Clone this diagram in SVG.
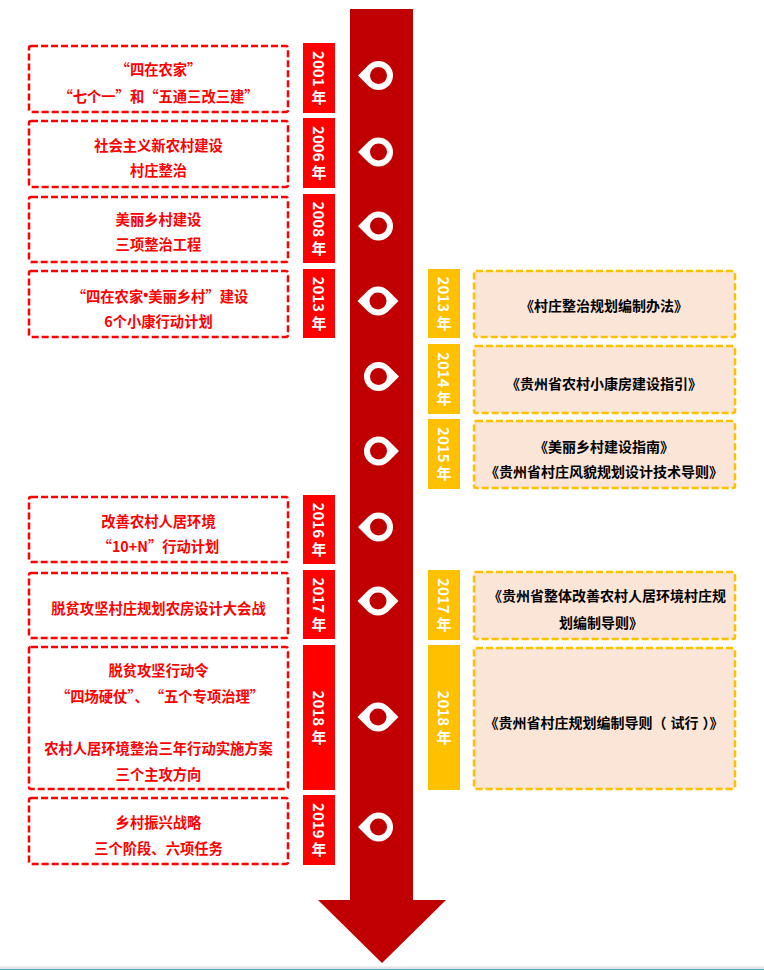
<svg xmlns="http://www.w3.org/2000/svg" xmlns:xlink="http://www.w3.org/1999/xlink" width="764" height="970" viewBox="0 0 764 970">
<style>
.lbox{fill:#ffffff;stroke:#ff0000;stroke-width:2.5;stroke-dasharray:7 3}
.rbox{fill:#fbe5d6;stroke:#ffc000;stroke-width:2.5;stroke-dasharray:7 3}
.ly{fill:#ff0000}
.ry{fill:#ffc000}
.yt{fill:#ffffff;font-family:"Noto Sans CJK SC","Noto Sans",sans-serif;font-weight:bold;font-size:15px;writing-mode:vertical-rl;text-orientation:mixed;text-anchor:middle}
.lt{fill:#ff0000;font-family:"Noto Sans CJK SC",sans-serif;font-weight:bold;font-size:14.3px;text-anchor:middle;dominant-baseline:central}
.rt{fill:#000000;font-family:"Noto Sans CJK SC",sans-serif;font-weight:bold;font-size:14px;text-anchor:middle;dominant-baseline:central}
.bul{font-family:"Liberation Sans",sans-serif}
.pin{fill:#ffffff}
.dot{fill:#c00000}
</style>
<defs>
<g id="pinL"><path class="pin" d="M-20.5,0 L-10.25,-10.25 A14.5,14.5 0 1 1 -10.25,10.25 Z"/><circle class="dot" r="8.5"/></g>
<g id="pinR"><path class="pin" d="M20.5,0 L10.25,-10.25 A14.5,14.5 0 1 0 10.25,10.25 Z"/><circle class="dot" r="8.5"/></g>
<g id="pinE"><path class="pin" d="M-20.5,0 L-10.25,-10.25 A14.5,14.5 0 0 1 10.25,-10.25 L20.5,0 L10.25,10.25 A14.5,14.5 0 0 1 -10.25,10.25 Z"/><circle class="dot" r="8.5"/></g>
</defs>

<g id="connectors">
<path id="timeline-arrow" d="M350,9 H413 V900 H446 L382,963 L318,900 H350 Z" fill="#c00000"/>
</g>

<g id="markers">
<use xlink:href="#pinL" href="#pinL" x="378.5" y="75.5"/>
<use xlink:href="#pinL" href="#pinL" x="378.5" y="152"/>
<use xlink:href="#pinL" href="#pinL" x="378.5" y="226"/>
<use xlink:href="#pinE" href="#pinE" x="378" y="301"/>
<use xlink:href="#pinR" href="#pinR" x="378.5" y="376.5"/>
<use xlink:href="#pinR" href="#pinR" x="378.5" y="451"/>
<use xlink:href="#pinL" href="#pinL" x="378.5" y="527"/>
<use xlink:href="#pinE" href="#pinE" x="378" y="601"/>
<use xlink:href="#pinE" href="#pinE" x="378" y="717"/>
<use xlink:href="#pinL" href="#pinL" x="378.5" y="827"/>
</g>

<g id="n2001">
<rect class="lbox" x="29" y="46" width="259" height="66" rx="2"/>
<rect class="ly" x="303" y="43" width="32" height="70"/>
<text class="yt" x="319" y="78">2001 年</text>
<text class="lt" x="158.5" y="68">“四在农家”</text>
<text class="lt" x="158.5" y="95">“七个一”和“五通三改三建”</text>
</g>

<g id="n2006">
<rect class="lbox" x="29" y="121" width="259" height="66" rx="2"/>
<rect class="ly" x="303" y="118" width="32" height="70"/>
<text class="yt" x="319" y="153">2006 年</text>
<text class="lt" x="158.5" y="144">社会主义新农村建设</text>
<text class="lt" x="158.5" y="169">村庄整治</text>
</g>

<g id="n2008">
<rect class="lbox" x="29" y="197" width="259" height="65" rx="2"/>
<rect class="ly" x="303" y="194" width="32" height="69"/>
<text class="yt" x="319" y="228.5">2008 年</text>
<text class="lt" x="158.5" y="218">美丽乡村建设</text>
<text class="lt" x="158.5" y="243">三项整治工程</text>
</g>

<g id="n2013">
<rect class="lbox" x="29" y="271" width="259" height="66" rx="2"/>
<rect class="ly" x="303" y="269" width="32" height="69"/>
<text class="yt" x="319" y="303.5">2013 年</text>
<text class="lt" x="160" y="295">“四在农家<tspan class="bul">•</tspan>美丽乡村”建设</text>
<text class="lt" x="158.5" y="320">6个小康行动计划</text>
</g>

<g id="n2016">
<rect class="lbox" x="29" y="497" width="259" height="65" rx="2"/>
<rect class="ly" x="303" y="495" width="32" height="69"/>
<text class="yt" x="319" y="529.5">2016 年</text>
<text class="lt" x="158.5" y="520">改善农村人居环境</text>
<text class="lt" x="158.5" y="545">“10+N”行动计划</text>
</g>

<g id="n2017">
<rect class="lbox" x="29" y="573" width="259" height="65" rx="2"/>
<rect class="ly" x="303" y="570" width="32" height="69"/>
<text class="yt" x="319" y="604.5">2017 年</text>
<text class="lt" x="158.5" y="607">脱贫攻坚村庄规划农房设计大会战</text>
</g>

<g id="n2018">
<rect class="lbox" x="29" y="647" width="259" height="142" rx="2"/>
<rect class="ly" x="303" y="645" width="32" height="145"/>
<text class="yt" x="319" y="717.5">2018 年</text>
<text class="lt" x="158.5" y="669">脱贫攻坚行动令</text>
<text class="lt" x="160" y="695">“四场硬仗”、<tspan dx="8">“五个专项治理”</tspan></text>
<text class="lt" x="158.5" y="747">农村人居环境整治三年行动实施方案</text>
<text class="lt" x="158.5" y="773">三个主攻方向</text>
</g>

<g id="n2019">
<rect class="lbox" x="29" y="798" width="259" height="66" rx="2"/>
<rect class="ly" x="303" y="795" width="32" height="70"/>
<text class="yt" x="319" y="830">2019 年</text>
<text class="lt" x="158.5" y="821">乡村振兴战略</text>
<text class="lt" x="158.5" y="847">三个阶段、六项任务</text>
</g>

<g id="r2013">
<rect class="ry" x="428" y="269" width="32" height="69"/>
<text class="yt" x="444" y="303.5">2013 年</text>
<rect class="rbox" x="474" y="271" width="261" height="66" rx="2"/>
<text class="rt" x="604" y="305">《村庄整治规划编制办法》</text>
</g>

<g id="r2014">
<rect class="ry" x="428" y="344" width="32" height="70"/>
<text class="yt" x="444" y="379">2014 年</text>
<rect class="rbox" x="474" y="346" width="261" height="67" rx="2"/>
<text class="rt" x="604" y="383">《贵州省农村小康房建设指引》</text>
</g>

<g id="r2015">
<rect class="ry" x="428" y="419" width="32" height="70"/>
<text class="yt" x="444" y="454">2015 年</text>
<rect class="rbox" x="474" y="421" width="261" height="67" rx="2"/>
<text class="rt" x="604" y="446">《美丽乡村建设指南》</text>
<text class="rt" x="604" y="471">《贵州省村庄风貌规划设计技术导则》</text>
</g>

<g id="r2017">
<rect class="ry" x="428" y="570" width="32" height="70"/>
<text class="yt" x="444" y="605">2017 年</text>
<rect class="rbox" x="474" y="572" width="261" height="67" rx="2"/>
<text class="rt" x="607" y="595">《贵州省整体改善农村人居环境村庄规</text>
<text class="rt" x="601" y="622">划编制导则》</text>
</g>

<g id="r2018">
<rect class="ry" x="428" y="645" width="32" height="145"/>
<text class="yt" x="444" y="717.5">2018 年</text>
<rect class="rbox" x="474" y="648" width="261" height="141" rx="2"/>
<text class="rt" x="604" y="722">《贵州省村庄规划编制导则（<tspan dx="4">试行</tspan><tspan dx="4">）</tspan>》</text>
</g>

<rect x="0" y="966.5" width="764" height="2.5" fill="#e4e4e4"/>
<rect x="0" y="969" width="764" height="1" fill="#5aa7c8"/>
</svg>
